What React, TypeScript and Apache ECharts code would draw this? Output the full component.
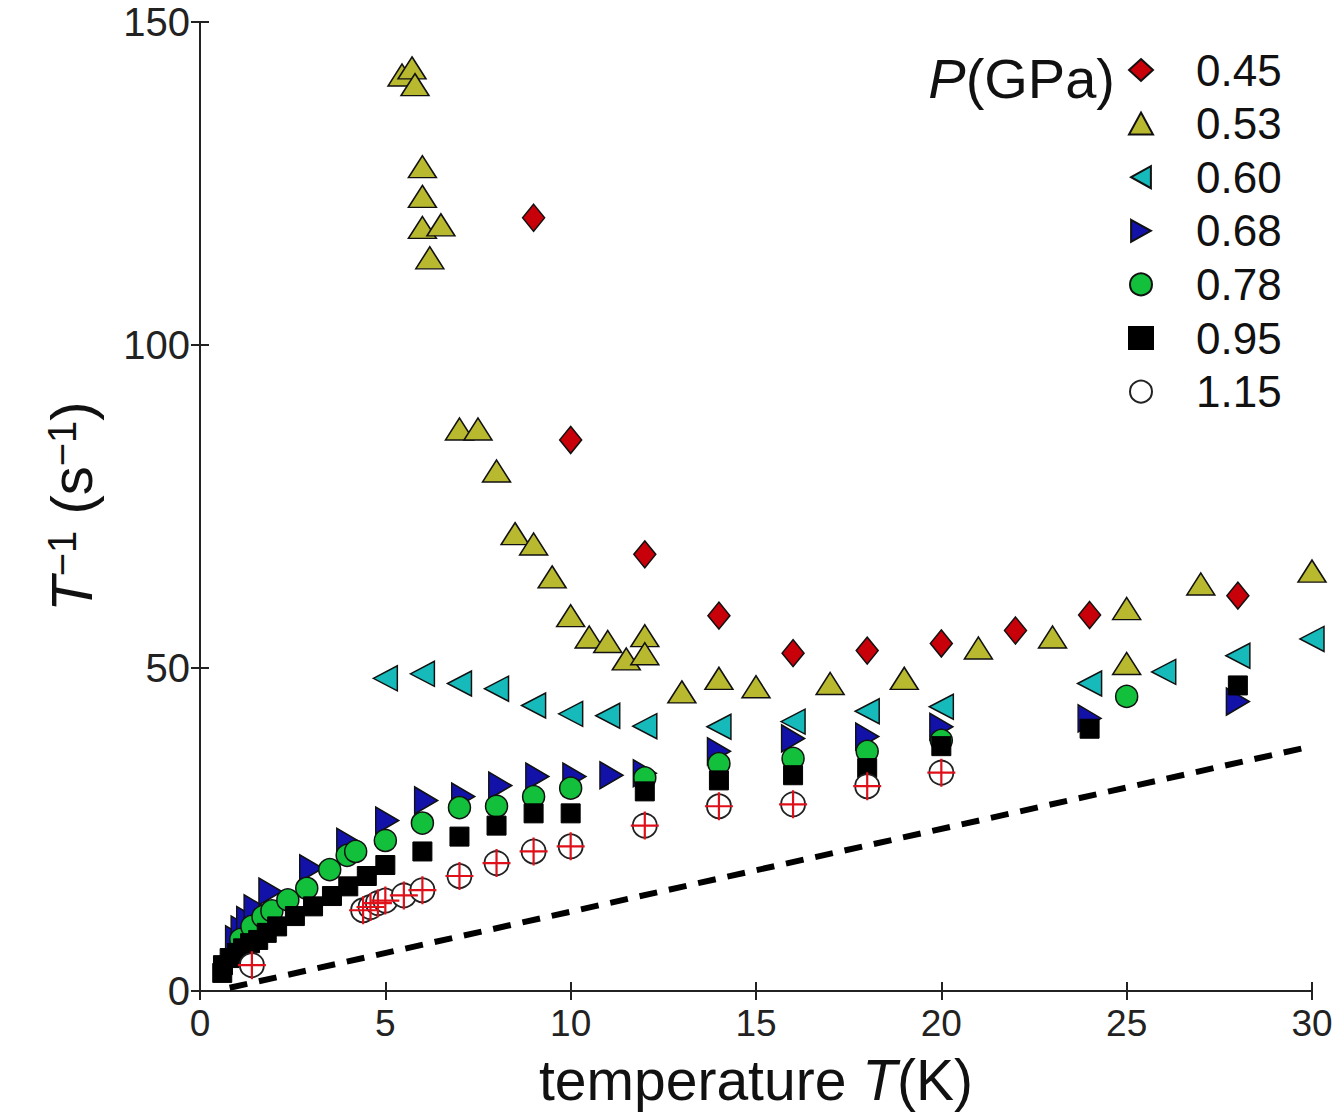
import React, { useEffect, useRef } from "react";
import * as echarts from "echarts";

const FONT = "'Liberation Sans', Arial, Helvetica, sans-serif";

const pressures = ["0.45", "0.53", "0.60", "0.68", "0.78", "0.95", "1.15"];
const xTicks = [0, 5, 10, 15, 20, 25, 30];
const yTicks = [0, 50, 100, 150];

const p045 = [[9, 119.7], [10, 85.3], [12, 67.6], [14, 58.1], [16, 52.3], [18, 52.7], [20, 53.8], [22, 55.8], [24, 58.2], [28, 61.2]];
const p053 = [[5.45, 141.8], [5.72, 142.9], [5.8, 140.3], [6, 127.6], [6, 123.0], [6, 118.2], [6.5, 118.6], [6.2, 113.5], [7, 87], [7.5, 87], [8, 80.5], [8.5, 70.8], [9, 69.2], [9.5, 64.1], [10, 58.1], [10.5, 54.8], [11, 54.1], [11.5, 51.4], [12, 55.0], [12, 52.2], [13, 46.3], [14, 48.4], [15, 47.1], [17, 47.6], [19, 48.4], [21, 53.1], [23, 54.8], [25, 59.2], [25, 50.7], [27, 63.0], [30, 65.0]];
const p060 = [[5, 48.4], [6, 49.1], [7, 47.6], [8, 46.8], [9, 44.2], [10, 42.9], [11, 42.6], [12, 41.0], [14, 40.9], [16, 41.7], [18, 43.3], [20, 44.0], [24, 47.6], [26, 49.4], [28, 51.9], [30, 54.5]];
const p068 = [[1.0, 8.0], [1.15, 9.5], [1.3, 11], [1.5, 12.8], [1.9, 15.4], [3, 19], [4, 23.1], [5.05, 26.4], [6.1, 29.5], [7.1, 30.1], [8.1, 31.8], [9.1, 33.2], [10.1, 33.2], [11.1, 33.4], [12, 33.7], [14, 37.1], [16, 39.1], [18, 39.4], [20, 40.9], [24, 42.2], [28, 44.8]];
const p078 = [[1.1, 8.0], [1.4, 10.0], [1.7, 11.5], [1.94, 12.4], [2.37, 14.1], [2.88, 15.9], [3.5, 18.8], [3.97, 21.0], [4.2, 21.6], [5.0, 23.3], [6, 26.0], [7, 28.4], [8, 28.6], [9, 30.1], [10, 31.4], [12, 33.0], [14, 35.2], [16, 36.0], [18, 37.1], [20, 38.8], [25, 45.6]];
const p095 = [[0.6, 2.8], [0.62, 4.0], [0.8, 5.1], [1.0, 5.9], [1.16, 6.6], [1.35, 7.4], [1.57, 7.9], [1.8, 9.0], [2.08, 10.0], [2.56, 11.6], [3.05, 13.1], [3.56, 14.7], [4.0, 16.2], [4.5, 17.8], [5, 19.5], [6, 21.6], [7, 23.9], [8, 25.6], [9, 27.5], [10, 27.5], [12, 30.9], [14, 32.6], [16, 33.4], [18, 34.5], [20, 37.9], [24, 40.6], [28, 47.3]];
const p115 = [[1.4, 4.0], [4.4, 12.5], [4.6, 13.0], [4.8, 13.6], [5.0, 14.0], [5.5, 14.8], [6, 15.6], [7, 17.8], [8, 19.8], [9, 21.6], [10, 22.4], [12, 25.6], [14, 28.6], [16, 28.9], [18, 31.7], [20, 33.8]];
const refLine = [[0.8, 0.5], [30, 37.9]];

const LEFT_TRI = "path://M0,10 L18,0 L18,20 Z";
const RIGHT_TRI = "path://M0,0 L18,10 L0,20 Z";

export default function App() {
  const ref = useRef<HTMLDivElement>(null);
  useEffect(() => {
    const chart = echarts.init(ref.current as HTMLDivElement, null, { renderer: "svg" });
    const border = { borderColor: "#111", borderWidth: 1.5, opacity: 1 };
    const axisLine = { show: true, lineStyle: { color: "#222", width: 2 } };
    const tick = { show: true, inside: true, length: 9, lineStyle: { color: "#222", width: 2 } };
    const legendIcons: Record<string, string> = { "0.60": LEFT_TRI, "0.68": RIGHT_TRI };
    const option: any = {
      animation: false,
      backgroundColor: "#fff",
      grid: { left: 200, right: 25, top: 22, bottom: 120 },
      xAxis: [
        {
          type: "value", min: xTicks[0], max: xTicks[xTicks.length - 1], interval: 5, position: "bottom",
          axisLine, axisTick: tick, splitLine: { show: false },
          axisLabel: { fontSize: 37, color: "#222", fontFamily: FONT, margin: 14 },
          name: "temperature {i|T}(K)", nameLocation: "middle", nameGap: 60,
          nameTextStyle: { fontSize: 57, color: "#111", fontFamily: FONT, rich: { i: { fontStyle: "italic", fontSize: 57, fontFamily: FONT, color: "#111" } } },
        },
        {
          type: "value", min: xTicks[0], max: xTicks[xTicks.length - 1], interval: 5, position: "top",
          axisLine, axisTick: tick, splitLine: { show: false }, axisLabel: { show: false },
        },
      ],
      yAxis: [
        {
          type: "value", min: yTicks[0], max: yTicks[yTicks.length - 1], interval: 50, position: "left",
          axisLine, axisTick: tick, splitLine: { show: false },
          axisLabel: { fontSize: 40, color: "#222", fontFamily: FONT, margin: 10 },
          name: "{i|T}{s|−1} (s{s|−1})", nameLocation: "middle", nameGap: 100,
          nameTextStyle: {
            fontSize: 58, color: "#111", fontFamily: FONT,
            rich: {
              i: { fontStyle: "italic", fontSize: 58, fontFamily: FONT, color: "#111" },
              s: { fontSize: 40, fontFamily: FONT, color: "#111", verticalAlign: "top" },
            },
          },
        },
        {
          type: "value", min: yTicks[0], max: yTicks[yTicks.length - 1], interval: 50, position: "right",
          axisLine, axisTick: tick, splitLine: { show: false }, axisLabel: { show: false },
        },
      ],
      legend: {
        data: pressures.map((p) => (legendIcons[p] ? { name: p, icon: legendIcons[p] } : { name: p })),
        orient: "vertical", left: 1128, top: 48, padding: 0,
        itemWidth: 24, itemHeight: 22, itemGap: 9.6,
        selectedMode: false,
        formatter: (name: string) => `{v|${name}}`,
        textStyle: {
          fontSize: 44, color: "#111", fontFamily: FONT,
          rich: { v: { fontSize: 44, color: "#111", fontFamily: FONT, padding: [0, 0, 0, 38] } },
        },
      },
      graphic: [
        {
          type: "text", x: 1115, y: 78,
          style: {
            text: "{i|P}(GPa)", align: "right", verticalAlign: "middle",
            fontSize: 56, fontFamily: FONT, fill: "#111",
            rich: { i: { fontStyle: "italic", fontSize: 56, fontFamily: FONT, fill: "#111" } },
          },
        },
      ],
      series: [
        {
          type: "line", data: refLine, symbol: "none", silent: true, z: 1,
          lineStyle: { color: "#000", width: 6, type: [18, 12] },
        },
        { name: pressures[0], type: "scatter", data: p045, symbol: "diamond", symbolSize: [22, 27], itemStyle: { color: "#c8000a", ...border }, z: 2 },
        { name: pressures[1], type: "scatter", data: p053, symbol: "triangle", symbolSize: [28, 22], itemStyle: { color: "#b9b930", ...border }, z: 2 },
        { name: pressures[2], type: "scatter", data: p060, symbol: "triangle", symbolRotate: 90, symbolSize: [25, 24], itemStyle: { color: "#16baba", ...border }, z: 2 },
        { name: pressures[3], type: "scatter", data: p068, symbol: "triangle", symbolRotate: -90, symbolSize: [27, 23], itemStyle: { color: "#1212a8", ...border }, z: 2 },
        { name: pressures[4], type: "scatter", data: p078, symbol: "circle", symbolSize: 22, itemStyle: { color: "#13c03c", ...border }, z: 2 },
        { name: pressures[5], type: "scatter", data: p095, symbol: "rect", symbolSize: 19, itemStyle: { color: "#000", borderColor: "#000", borderWidth: 1, opacity: 1 }, z: 2 },
        { name: pressures[6], type: "scatter", data: p115, symbol: "circle", symbolSize: 24, itemStyle: { color: "#fff", borderColor: "#222", borderWidth: 1.8, opacity: 1 }, z: 2 },
        {
          name: "1.15 cross", type: "scatter", data: p115, symbol: "path://M0,14 L28,14 M14,0 L14,28", symbolSize: 28,
          itemStyle: { color: "rgba(0,0,0,0)", borderColor: "#e0101a", borderWidth: 2.2, opacity: 1 }, z: 3, silent: true,
        },
      ],
    };
    chart.setOption(option);
    return () => chart.dispose();
  }, []);
  return <div ref={ref} style={{ position: "fixed", left: 0, top: 0, width: 1337, height: 1113, background: "#fff" }} />;
}
